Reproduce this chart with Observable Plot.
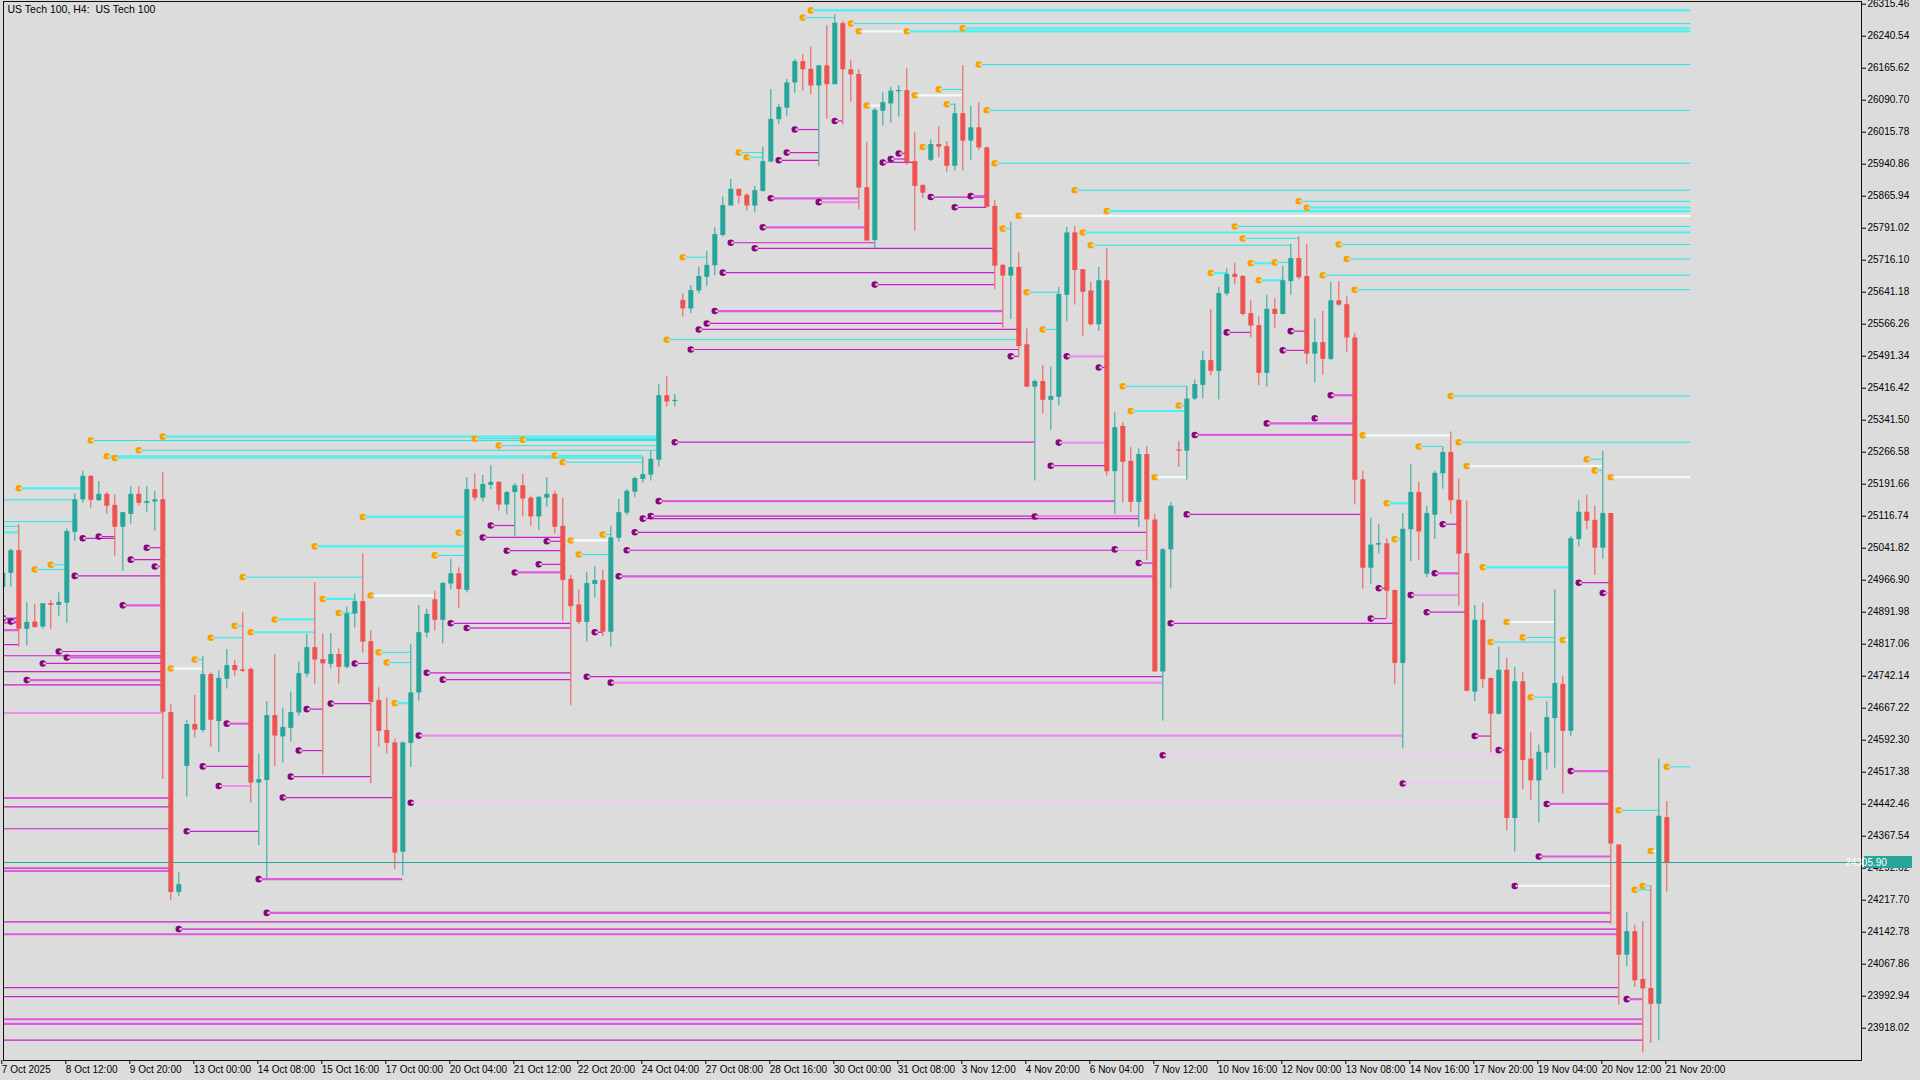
<!DOCTYPE html>
<html><head><meta charset="utf-8">
<script src="https://cdn.jsdelivr.net/npm/d3@7"></script>
<script src="https://cdn.jsdelivr.net/npm/@observablehq/plot@0.6"></script>
<style>
html,body{margin:0;padding:0;background:#dcdcdc;overflow:hidden;}
#chart svg{display:block;}
</style></head><body><div id="chart"></div>
<script>
// ---- candle data (H4 bars, index 0..208) ----
const open = [24950,24983,25036,24852,24869,24857,24912,24908,24913,25079,
25155,25210,25153,25168,25142,25091,25121,25168,25147,25150,
25155,24657,24236,24531,24629,24615,24746,24636,24735,24767,
24757,24758,24492,24498,24650,24600,24620,24656,24747,24809,
24781,24770,24793,24763,24888,24917,24823,24685,24615,24586,
24330,24585,24703,24843,24921,24873,24958,24982,24943,25179,
25159,25189,25196,25143,25172,25188,25159,25115,25159,25168,
25093,24969,24909,24868,24957,24966,24845,25065,25124,25173,
25203,25213,25248,25399,25385,25622,25602,25644,25676,25703,
25774,25843,25882,25868,25843,25877,25946,26045,26072,26131,
26181,26163,26124,26171,26127,26270,26162,26151,25886,25762,
26065,26082,26111,26113,25947,25891,25950,25987,25982,25936,
26059,25995,26026,25979,25842,25704,25679,25699,25518,25419,
25432,25388,25395,25634,25780,25694,25644,25565,25668,25221,
25327,25245,25149,25261,25108,24752,25038,25272,25269,25391,
25423,25481,25456,25637,25683,25678,25591,25563,25451,25601,
25589,25666,25720,25678,25496,25523,25484,25621,25612,25534,
25202,24995,25050,25052,24943,24772,25085,25172,24981,25119,
25216,25266,25154,25029,24705,24873,24737,24653,24756,24409,
24729,24548,24497,24562,24643,24723,24613,25062,25126,25107,
25042,25123,24347,24089,24144,24032,24011,23974,24411];
const high = [24992,25040,25097,24914,24910,24912,24919,24937,25087,25169,
25221,25212,25198,25172,25167,25126,25186,25186,25186,25175,
25219,24675,24282,24638,24697,24788,24750,24755,24805,24779,
24891,24762,24560,24683,24793,24667,24705,24775,24840,24961,
24841,24842,24806,24904,24935,25029,24849,24715,24691,24595,
24588,24816,24908,24899,24940,24962,25015,24996,25207,25216,
25212,25235,25198,25175,25193,25214,25164,25163,25207,25175,
25158,24978,24944,24985,24999,24990,25093,25156,25179,25208,
25255,25269,25425,25444,25402,25637,25657,25700,25737,25792,
25864,25905,25882,25872,25889,25981,26116,26081,26139,26186,
26198,26215,26172,26266,26291,26275,26184,26163,25992,26071,
26108,26120,26125,26164,26014,25893,25998,26029,25994,26082,
26172,26076,26085,25981,25856,25706,25805,25733,25555,25436,
25470,25466,25652,25793,25795,25694,25664,25699,25743,25359,
25336,25277,25274,25280,25121,25041,25149,25292,25420,25436,
25502,25601,25652,25696,25708,25680,25621,25584,25634,25626,
25702,25753,25771,25753,25579,25596,25664,25666,25630,25545,
25221,25112,25097,25064,24943,25123,25238,25196,25140,25221,
25279,25314,25204,25152,24908,24913,24737,24810,24784,24763,
24751,24610,24581,24683,24944,24742,25070,25153,25166,25140,
25269,25123,24347,24189,24159,24168,24251,24548,24449];
const low = [24935,24951,24810,24813,24855,24852,24852,24882,24866,25058,
25147,25136,25151,25121,25023,24988,25098,25140,25126,25082,
24500,24217,24226,24459,24597,24610,24576,24564,24712,24742,
24750,24445,24346,24268,24531,24539,24588,24649,24739,24723,
24511,24759,24724,24759,24855,24796,24490,24576,24560,24290,
24275,24528,24684,24831,24848,24818,24944,24900,24937,25152,
25150,25179,25129,25120,25068,25115,25093,25083,25138,25075,
24871,24674,24863,24822,24925,24835,24810,25056,25118,25161,
25194,25199,25232,25372,25372,25583,25591,25637,25655,25680,
25770,25843,25848,25831,25827,25875,25944,26034,26053,26107,
26112,26104,25936,26046,26127,26033,26086,25834,25761,25743,
26030,26037,26051,25938,25784,25861,25947,25956,25922,25925,
25925,25950,25973,25840,25647,25557,25577,25488,25417,25199,
25356,25318,25375,25573,25611,25538,25562,25549,25211,25121,
25148,25126,25090,25013,24752,24637,24947,25231,25201,25387,
25391,25446,25389,25632,25658,25585,25534,25423,25419,25557,
25589,25634,25670,25472,25429,25447,25481,25608,25500,25143,
24946,24957,25028,24877,24722,24572,25011,25013,24973,25062,
25180,25121,24906,24705,24683,24713,24562,24651,24380,24331,
24476,24452,24398,24522,24527,24466,24600,25045,25086,24978,
25016,24161,23972,24062,24013,23860,23882,23888,24237];
const close = [24983,25036,24852,24868,24856,24912,24908,24915,25081,25155,
25210,25154,25168,25140,25091,25125,25168,25147,25151,25155,
24658,24236,24254,24629,24616,24746,24639,24737,24767,24755,
24756,24492,24500,24650,24602,24622,24657,24748,24809,24780,
24771,24793,24763,24888,24917,24822,24681,24613,24585,24328,
24586,24703,24844,24887,24873,24959,24982,24945,25179,25159,
25191,25196,25143,25172,25188,25157,25115,25161,25168,25091,
24966,24905,24868,24959,24966,24845,25066,25125,25175,25205,
25214,25250,25399,25384,25388,25602,25645,25678,25704,25776,
25844,25882,25866,25843,25879,25947,26046,26074,26131,26181,
26162,26124,26171,26127,26271,26162,26150,25885,25761,26067,
26085,26112,26113,25944,25889,25873,25987,25981,25936,26059,
25995,26026,25979,25840,25702,25679,25699,25514,25419,25432,
25388,25397,25636,25780,25692,25641,25565,25668,25221,25324,
25243,25149,25261,25108,24752,25038,25140,25269,25391,25425,
25481,25456,25638,25683,25676,25589,25562,25451,25601,25589,
25668,25720,25675,25496,25523,25484,25621,25611,25534,25201,
24995,25049,25052,24941,24772,25086,25172,25080,25123,25217,
25266,25153,25028,24707,24873,24734,24653,24756,24409,24729,
24545,24497,24564,24645,24725,24613,25064,25126,25105,25042,
25123,24349,24089,24144,24029,24010,23974,24414,24305.9];

// ---- axis labels ----
const tickBars = [0,8,16,24,32,40,48,56,64,72,80,88,96,104,112,120,128,136,144,152,160,168,176,184,192,200,208];
const timeLabels = ["7 Oct 2025","8 Oct 12:00","9 Oct 20:00","13 Oct 00:00","14 Oct 08:00","15 Oct 16:00","17 Oct 00:00","20 Oct 04:00","21 Oct 12:00","22 Oct 20:00","24 Oct 04:00","27 Oct 08:00","28 Oct 16:00","30 Oct 00:00","31 Oct 08:00","3 Nov 12:00","4 Nov 20:00","6 Nov 04:00","7 Nov 12:00","10 Nov 16:00","12 Nov 00:00","13 Nov 08:00","14 Nov 16:00","17 Nov 20:00","19 Nov 04:00","20 Nov 12:00","21 Nov 20:00"];
const priceTicks = [26315.46,26240.54,26165.62,26090.70,26015.78,25940.86,25865.94,25791.02,25716.10,25641.18,25566.26,25491.34,25416.42,25341.50,25266.58,25191.66,25116.74,25041.82,24966.90,24891.98,24817.06,24742.14,24667.22,24592.30,24517.38,24442.46,24367.54,24292.62,24217.70,24142.78,24067.86,23992.94,23918.02];
const lastPrice = 24305.90;
const title = "US Tech 100, H4:\u00a0 US Tech 100";

// ---- levels: [startBar, endBar, price, style] ; start < 0 = begins before chart, 211 = right edge ----
const E = 211;
const highLevels = [
[2,10,25182,"C"],[-5,9,25155,"c"],[-5,9,25104,"c"],[-5,2,25093,"c"],[-5,2,25079,"C"],
[6,8,25003,"c"],[4,8,24992,"c"],[11,82,25294,"c"],[17,82,25271,"c"],[13,80,25257,"C"],
[14,80,25253,"c"],[20,82,25303,"C"],[59,82,25298,"c"],[62,82,25282,"c"],[65,82,25296,"c"],
[69,80,25259,"c"],[70,80,25243,"c"],[39,58,25046,"C"],[30,45,24974,"c"],[40,44,24923,"C"],
[42,44,24890,"c"],[34,39,24875,"C"],[31,39,24845,"C"],[29,30,24860,"c"],[26,30,24832,"c"],
[24,25,24781,"c"],[21,25,24760,"w"],[45,58,25115,"C"],[57,58,25078,"c"],[54,58,25025,"c"],
[46,54,24931,"w"],[47,51,24798,"c"],[48,51,24774,"c"],[49,51,24679,"C"],[75,76,25074,"c"],
[71,76,25060,"w"],[72,76,25027,"c"],[83,127,25530,"c"],[85,88,25723,"c"],[92,95,25968,"c"],
[93,95,25957,"c"],[100,104,26284,"c"],[101,E,26301,"C"],[106,E,26270,"c"],[107,113,26252,"w"],
[113,E,26252,"C"],[120,E,26259,"C"],[122,E,26174,"c"],[117,120,26116,"c"],[114,120,26102,"w"],
[118,119,26081,"c"],[108,110,26078,"w"],[123,E,26067,"c"],[115,116,25981,"c"],[124,E,25943,"c"],
[125,126,25790,"c"],[134,E,25880,"c"],[127,E,25820,"w"],[138,E,25831,"C"],[162,E,25854,"c"],
[163,E,25839,"C"],[135,E,25781,"C"],[154,E,25795,"c"],[136,161,25751,"c"],[155,162,25767,"c"],
[167,E,25753,"c"],[168,E,25719,"c"],[156,159,25709,"C"],[159,161,25711,"c"],[151,153,25686,"C"],
[157,160,25669,"C"],[165,E,25681,"c"],[169,E,25647,"c"],[128,132,25641,"c"],[130,132,25554,"c"],
[140,148,25421,"c"],[141,148,25363,"C"],[147,148,25376,"c"],[144,148,25208,"w"],[181,E,25398,"c"],
[182,E,25290,"c"],[170,181,25306,"w"],[177,180,25280,"c"],[183,200,25234,"w"],[198,200,25250,"c"],
[199,200,25224,"c"],[201,E,25208,"w"],[173,176,25147,"C"],[174,175,25063,"c"],[185,196,24997,"C"],
[188,194,24869,"w"],[190,194,24833,"c"],[186,194,24822,"c"],[195,196,24827,"w"],[191,194,24693,"c"],
[208,E,24530,"c"],[202,207,24428,"c"],[206,207,24333,"w"],[205,206,24251,"c"],[204,206,24242,"c"]
];
const lowLevels = [
[0,2,24878,"m"],[1,2,24870,"m"],[-5,2,24876,"m"],[-5,2,24867,"m"],[-5,2,24850,"M"],
[-5,2,24816,"m"],[10,14,25065,"m"],[12,14,25069,"m"],[18,20,25043,"m"],[16,20,25015,"m"],
[19,20,24999,"m"],[9,20,24977,"m"],[15,20,24908,"M"],[7,20,24800,"m"],[8,20,24786,"M"],
[-5,20,24790,"m"],[5,20,24772,"m"],[3,20,24733,"M"],[-5,20,24753,"m"],[-5,20,24722,"m"],
[-5,20,24656,"p"],[-5,21,24457,"M"],[-5,21,24436,"m"],[-5,21,24385,"m"],[-5,21,24293,"m"],
[-5,21,24286,"M"],[28,31,24631,"M"],[25,31,24531,"m"],[27,31,24485,"p"],[23,32,24379,"m"],
[32,50,24267,"M"],[38,40,24665,"m"],[41,46,24678,"m"],[37,40,24568,"m"],[36,46,24507,"m"],
[35,49,24458,"m"],[44,46,24772,"m"],[61,64,25095,"m"],[60,70,25067,"m"],[68,70,25058,"m"],
[63,70,25036,"m"],[67,70,25004,"m"],[64,70,24985,"M"],[56,71,24866,"m"],[58,71,24855,"M"],
[53,71,24750,"m"],[55,71,24734,"m"],[74,75,24845,"m"],[82,139,25152,"M"],[81,142,25117,"m"],
[80,142,25111,"m"],[79,143,25079,"m"],[78,143,25037,"m"],[77,144,24976,"M"],[73,145,24741,"m"],
[76,145,24727,"p"],[52,175,24603,"p"],[51,188,24446,"q"],[84,129,25290,"m"],[104,105,26042,"m"],
[99,102,26022,"m"],[98,102,25968,"m"],[97,102,25950,"m"],[112,113,25966,"m"],[111,113,25953,"m"],
[110,114,25945,"m"],[96,107,25861,"M"],[102,107,25852,"p"],[95,108,25793,"M"],[116,123,25864,"m"],
[121,123,25866,"M"],[119,123,25840,"m"],[91,109,25757,"m"],[94,124,25744,"m"],[90,124,25687,"m"],
[109,124,25659,"m"],[89,125,25597,"M"],[88,125,25568,"m"],[87,127,25554,"m"],[86,127,25507,"m"],
[126,127,25491,"m"],[133,138,25491,"p"],[137,138,25465,"m"],[132,138,25289,"p"],[131,138,25235,"m"],
[153,156,25547,"m"],[161,163,25550,"m"],[160,163,25505,"m"],[166,169,25400,"M"],[164,169,25346,"q"],
[158,169,25334,"M"],[149,169,25307,"M"],[148,170,25121,"m"],[146,174,24866,"m"],[129,142,25116,"p"],
[139,143,25039,"q"],[142,144,25007,"m"],[145,188,24557,"q"],[180,182,25098,"m"],[179,182,24983,"M"],
[172,173,24948,"m"],[171,173,24877,"m"],[176,182,24932,"p"],[178,183,24892,"m"],[197,201,24961,"m"],
[200,201,24937,"p"],[184,186,24602,"m"],[187,188,24569,"m"],[175,188,24491,"q"],[196,201,24520,"M"],
[193,201,24443,"M"],[192,201,24320,"M"],[189,201,24251,"w"],[33,201,24188,"M"],[-5,201,24167,"m"],
[22,202,24150,"m"],[-5,202,24138,"M"],[-5,202,24013,"m"],[-5,202,23992,"m"],[203,205,23986,"M"],
[-5,205,23939,"M"],[-5,205,23928,"M"],[-5,205,23890,"m"]
];

// ---- styles ----
const BG = "#dcdcdc", UP = "#26a69a", DOWN = "#ef5350";
const lineStyles = {
  c: {stroke: "#22e6e6", width: 1},
  C: {stroke: "#4cf2f2", width: 2.2},
  w: {stroke: "#f2fbfb", width: 2.2},
  m: {stroke: "#cc1ccc", width: 1.2},
  M: {stroke: "#e05ae0", width: 2.2},
  p: {stroke: "#ec8eec", width: 2.2},
  q: {stroke: "#f3c6f3", width: 2.2}
};

const candles = open.map((o, i) => ({i, o, h: high[i], l: low[i], c: close[i]}));
const ups = candles.filter(d => d.c > d.o);
const downs = candles.filter(d => d.c <= d.o);
const dojis = candles.filter(d => Math.abs(d.c - d.o) < 2.5);
const toLevel = (kind) => (a) => ({start: a[0], end: a[1], price: a[2], style: a[3], kind});
const levels = highLevels.map(toLevel("high")).concat(lowLevels.map(toLevel("low")));

const marks = [];
marks.push(Plot.ruleY([lastPrice], {stroke: UP, strokeWidth: 1, clip: true}));
for (const [key, st] of Object.entries(lineStyles)) {
  marks.push(Plot.ruleY(levels.filter(d => d.style === key), {
    x1: "start", x2: "end", y: "price", stroke: st.stroke, strokeWidth: st.width, clip: true
  }));
}
for (const [set, col] of [[ups, UP], [downs, DOWN]]) {
  marks.push(Plot.ruleX(set, {x: "i", y1: "l", y2: "h", stroke: col, strokeWidth: 1, clip: true}));
  marks.push(Plot.ruleX(set, {x: "i", y1: "o", y2: "c", stroke: col, strokeWidth: 5, strokeLinecap: "butt", clip: true}));
}
marks.push(Plot.ruleY(dojis, {x1: d => d.i - 0.3, x2: d => d.i + 0.3, y: "c", stroke: d => (d.c > d.o ? UP : DOWN), strokeWidth: 1.2, clip: true}));
const highDots = levels.filter(d => d.kind === "high" && d.start >= 0);
const lowDots = levels.filter(d => d.kind === "low" && d.start >= 0);
marks.push(Plot.dot(highDots, {x: "start", y: "price", r: 3.3, fill: "#f4a300", stroke: "none", clip: true}));
marks.push(Plot.dot(lowDots, {x: "start", y: "price", r: 3.3, fill: "#86087f", stroke: "none", clip: true}));
marks.push(Plot.dot(highDots.concat(lowDots), {x: "start", y: "price", r: 1.3, dx: 1.8, fill: "#e9d9c9", stroke: "none", clip: true}));
marks.push(Plot.frame({stroke: "#111", strokeWidth: 1}));
marks.push(Plot.axisY(priceTicks, {anchor: "right", tickSize: 4, tickPadding: 2, tickFormat: d => d.toFixed(2), fontSize: 10, fill: "#000", stroke: "#000"}));
const labelOf = new Map(tickBars.map((b, k) => [b, timeLabels[k]]));
marks.push(Plot.axisX(tickBars, {anchor: "bottom", tickSize: 4, tickPadding: 1, tickFormat: d => labelOf.get(d), textAnchor: "start", dx: -1, fontSize: 10, fill: "#000", stroke: "#000"}));
marks.push(Plot.text([title], {frameAnchor: "top-left", dx: 4, dy: 4, textAnchor: "start", lineAnchor: "top", fontSize: 10.5, fill: "#000"}));

const chart = Plot.plot({
  width: 1920, height: 1080,
  marginLeft: 3, marginRight: 59, marginTop: 1, marginBottom: 20,
  x: {type: "linear", domain: [0.0875, 232.3375], axis: null},
  y: {type: "linear", domain: [23842.38, 26321.78], axis: null},
  style: {background: BG, color: "#000", fontFamily: "'Liberation Sans', Arial, sans-serif", fontSize: "10px"},
  marks
});
document.getElementById("chart").appendChild(chart);

// current price label on the right axis, positioned through the plot's y scale
const ys = chart.scale("y").apply(lastPrice);
const g = d3.select(chart).append("g");
g.append("rect").attr("x", 1864).attr("y", ys - 6).attr("width", 48).attr("height", 12).attr("fill", UP);
g.append("text").attr("x", 1866).attr("y", ys).attr("dy", "0.36em").attr("fill", "#fff")
  .attr("font-size", 10).attr("font-family", "'Liberation Sans', Arial, sans-serif").text(lastPrice.toFixed(2));
</script></body></html>
